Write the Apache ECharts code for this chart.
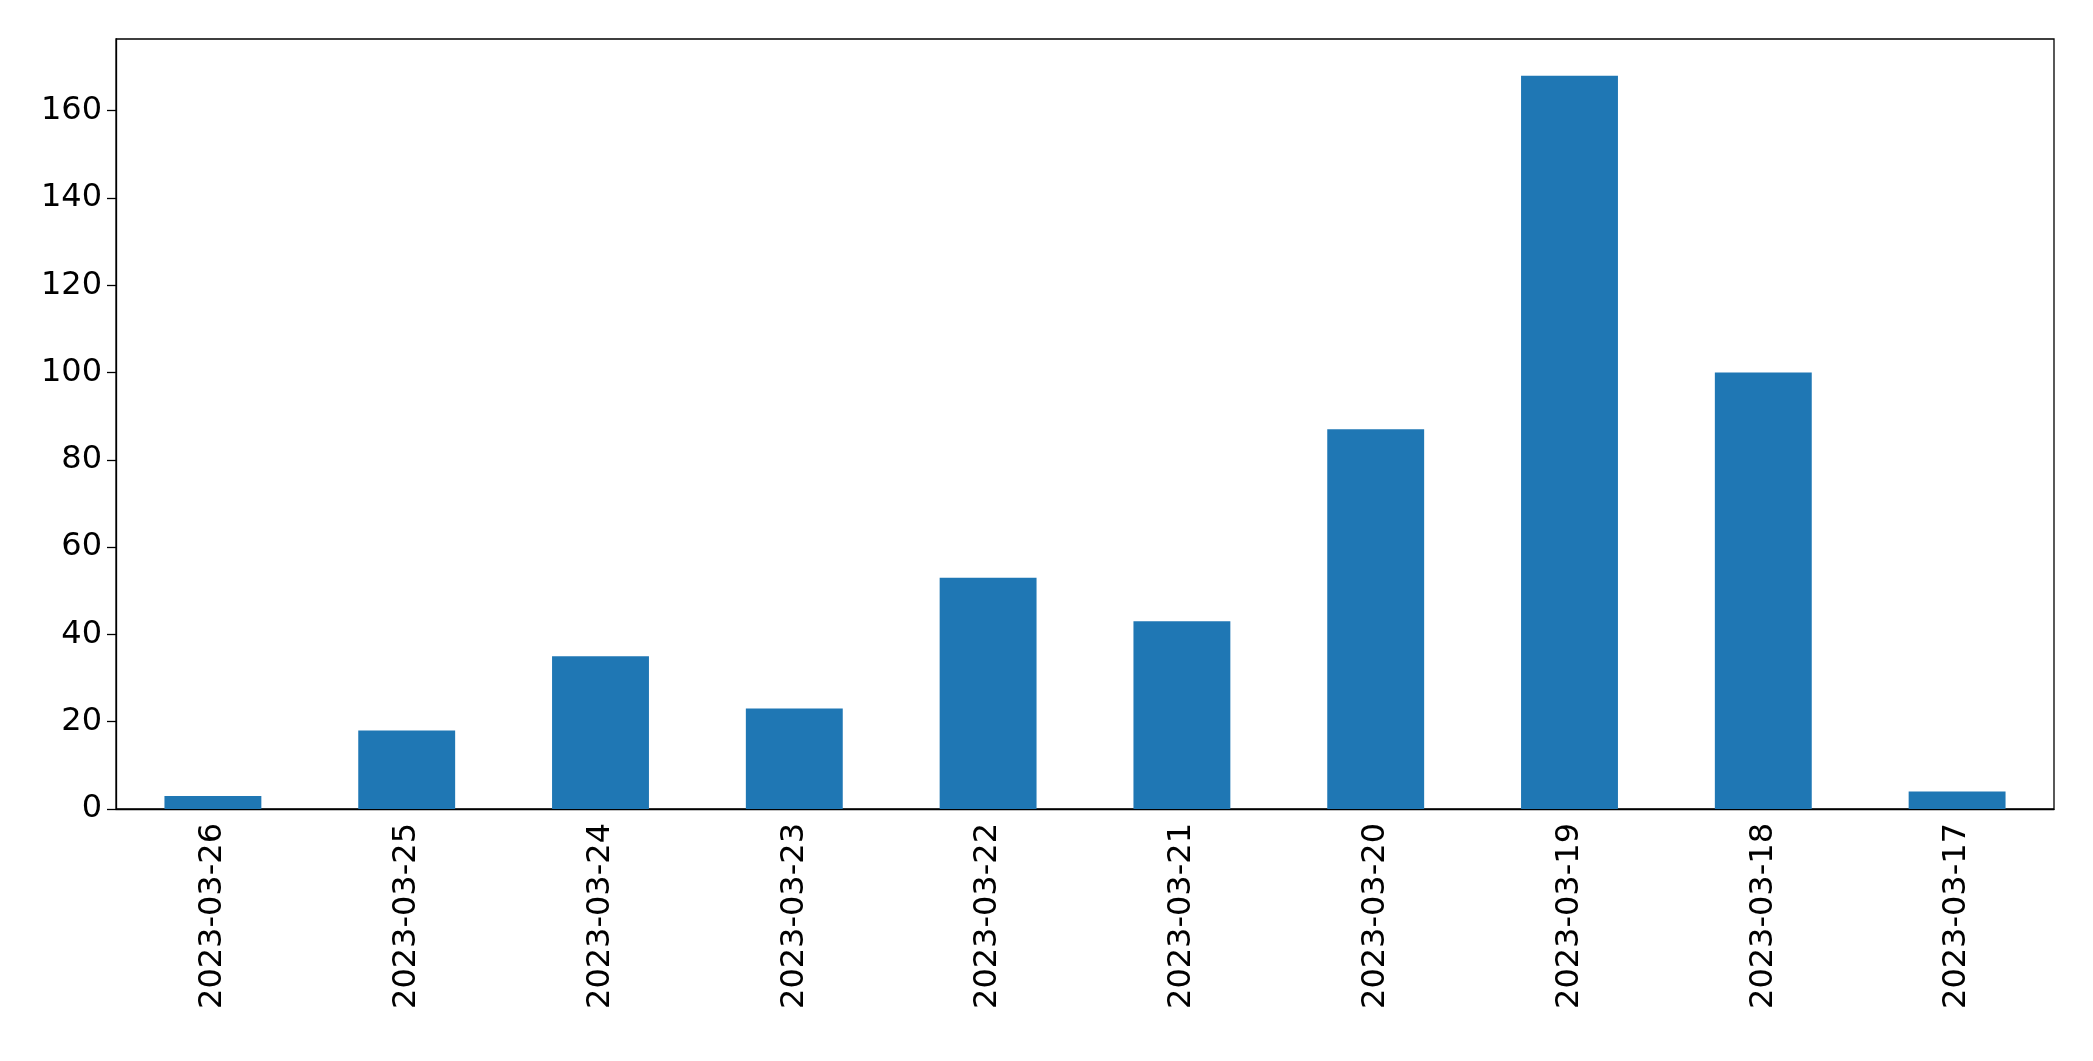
<!DOCTYPE html>
<html><head><meta charset="utf-8">
<script src="https://cdn.jsdelivr.net/npm/echarts@6/dist/echarts.min.js"></script>
<style>html,body{margin:0;background:#fff}#c{width:2093px;height:1061px}</style>
</head><body><div id="c"></div>
<script>
const categories = ["2023-03-26","2023-03-25","2023-03-24","2023-03-23","2023-03-22","2023-03-21","2023-03-20","2023-03-19","2023-03-18","2023-03-17"];
const counts = [3,18,35,23,53,43,87,168,100,4];
const chart = echarts.init(document.getElementById('c'));
const font = {fontFamily:'DejaVu Sans', fontSize:32, color:'#000'};
chart.setOption({
  animation:false,
  grid:{left:116,right:39,top:39,bottom:252,show:true,borderColor:'#000',borderWidth:1.3},
  xAxis:{type:'category',data:categories,boundaryGap:true,
    axisLine:{lineStyle:{color:'#000',width:1.3}},
    axisTick:{alignWithLabel:true,length:9,lineStyle:{color:'#000',width:1.3}},
    axisLabel:Object.assign({rotate:90,margin:14},font)},
  yAxis:{type:'value',min:0,max:176.4,interval:20,
    splitLine:{show:false},
    axisLine:{show:true,lineStyle:{color:'#000',width:1.3}},
    axisTick:{show:true,length:9,lineStyle:{color:'#000',width:1.3}},
    axisLabel:Object.assign({margin:14,showMaxLabel:false},font)},
  series:[{type:'bar',data:counts,barWidth:'50%',itemStyle:{color:'#1f77b4'}}]
});
</script></body></html>
